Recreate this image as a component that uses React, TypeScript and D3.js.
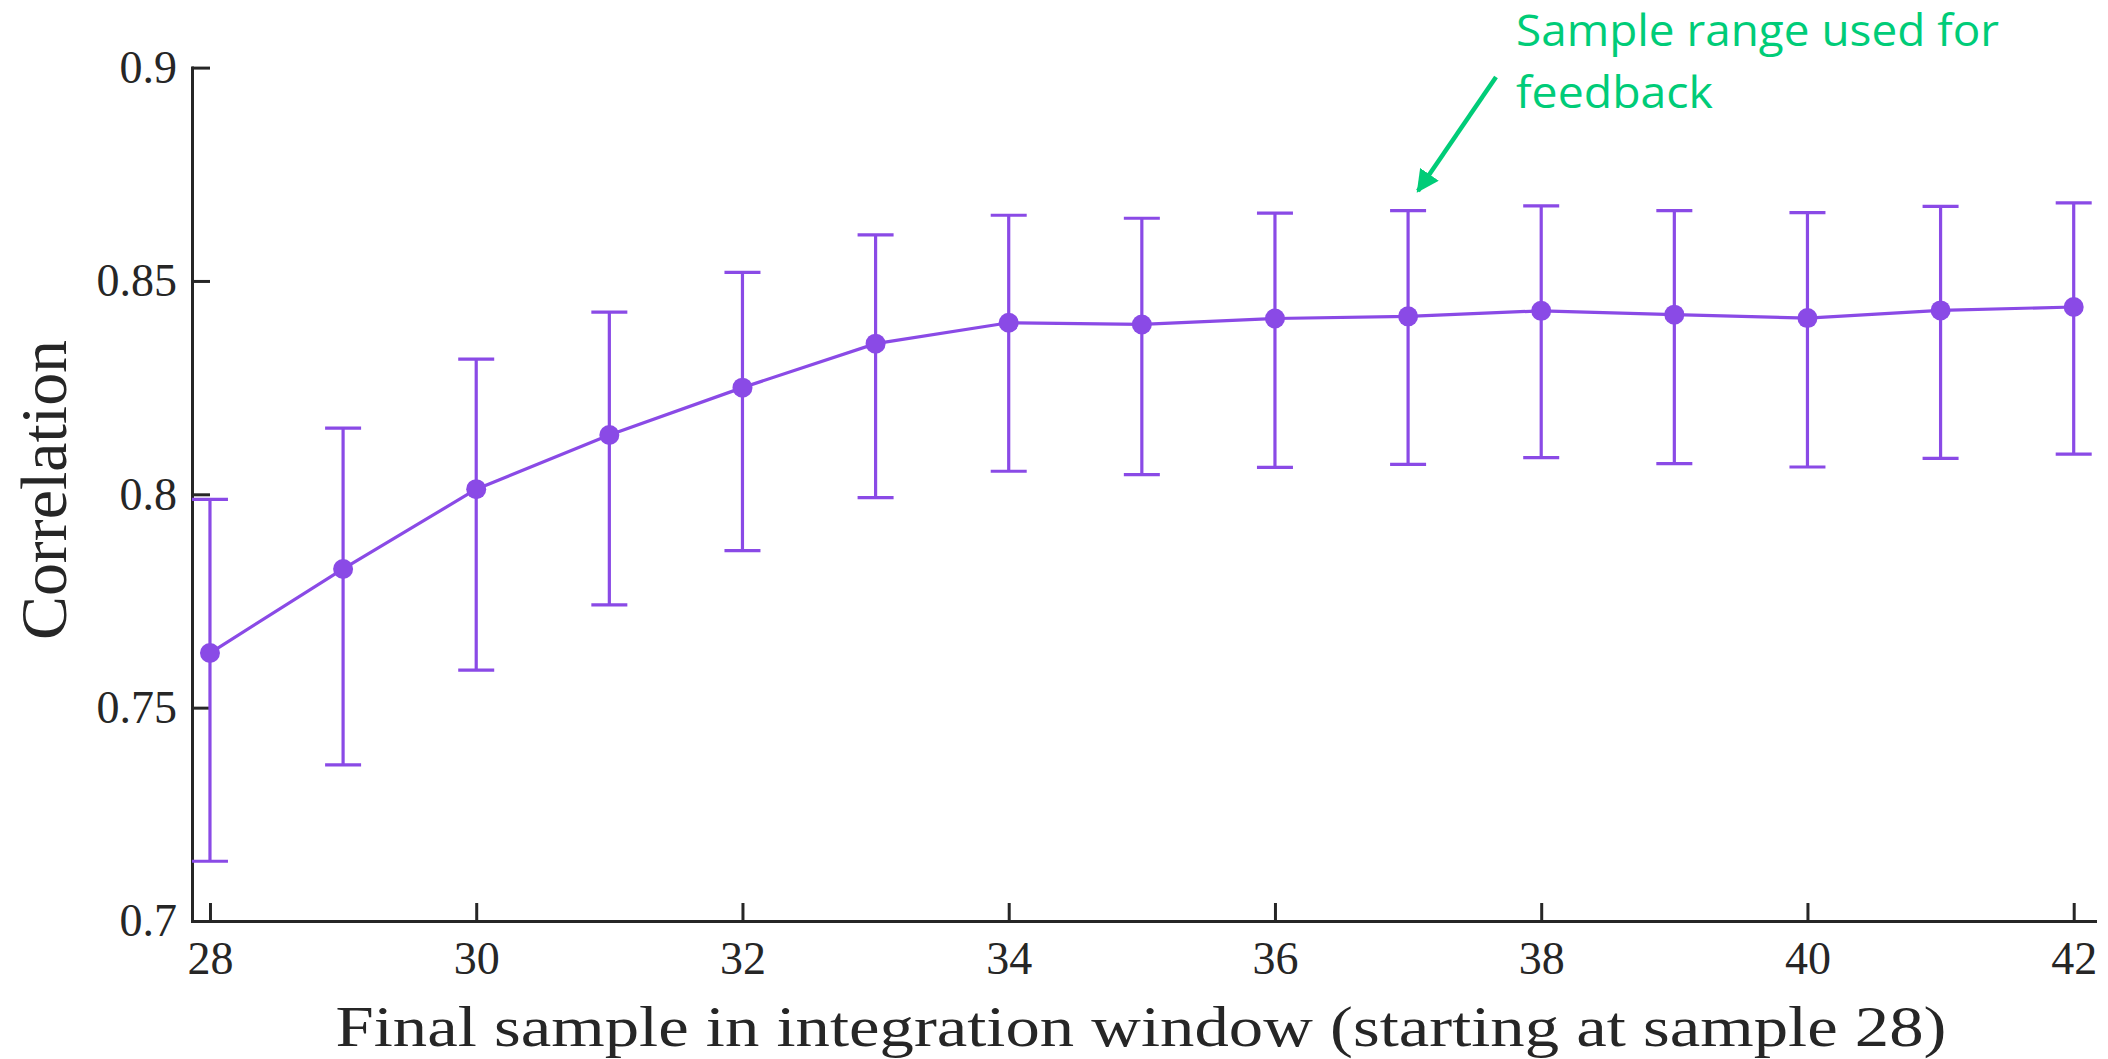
import React, { useEffect, useRef } from "react";
import * as d3 from "d3";

const sampleIndex = [28, 29, 30, 31, 32, 33, 34, 35, 36, 37, 38, 39, 40, 41, 42];
const meanValues = [0.7628, 0.7825, 0.8012, 0.8139, 0.825, 0.8353, 0.8402, 0.8398, 0.8412, 0.8417, 0.843, 0.8421, 0.8413, 0.8431, 0.8439];
const upperValues = [0.7988, 0.8155, 0.8317, 0.8427, 0.852, 0.8608, 0.8654, 0.8647, 0.8659, 0.8665, 0.8676, 0.8665, 0.866, 0.8675, 0.8683];
const lowerValues = [0.714, 0.7366, 0.7588, 0.7741, 0.7868, 0.7992, 0.8054, 0.8046, 0.8063, 0.807, 0.8086, 0.8072, 0.8064, 0.8084, 0.8094];
const xTickValues = [28, 30, 32, 34, 36, 38, 40, 42];
const yTickValues = [0.7, 0.75, 0.8, 0.85, 0.9];
const yTickLabels = ["0.7", "0.75", "0.8", "0.85", "0.9"];
const xTitle = "Final sample in integration window (starting at sample 28)";
const yTitle = "Correlation";
const noteLines = ["Sample range used for", "feedback"];

const W = 2108;
const H = 1059;
const PURPLE = "#8a4ae6";
const GREEN = "#00cc78";
const AXIS = "#262626";
const SERIF = "'Liberation Serif', 'DejaVu Serif', serif";
const SANS = "'Open Sans', 'Noto Sans', sans-serif";

export default function App() {
  const xAxisRef = useRef<SVGGElement>(null);
  const yAxisRef = useRef<SVGGElement>(null);

  const x = d3.scaleLinear().domain([27.865, 42.16]).range([192, 2095]);
  const y = d3.scaleLinear().domain([0.7, 0.9]).range([921, 67.6]);

  useEffect(() => {
    const xa = d3
      .axisBottom(x)
      .tickValues(xTickValues)
      .tickSizeInner(-18)
      .tickSizeOuter(0)
      .tickPadding(20)
      .tickFormat((d) => String(d));
    const ya = d3
      .axisLeft(y)
      .tickValues(yTickValues)
      .tickSizeInner(-18)
      .tickSizeOuter(0)
      .tickPadding(15)
      .tickFormat((d, i) => yTickLabels[i]);
    const gx = d3.select(xAxisRef.current!);
    gx.call(xa as any);
    const gy = d3.select(yAxisRef.current!);
    gy.call(ya as any);
    [gx, gy].forEach((g) => {
      g.attr("font-size", 46).attr("font-family", SERIF);
      g.select(".domain").attr("stroke", AXIS).attr("stroke-width", 3).attr("stroke-linecap", "square");
      g.selectAll(".tick line").attr("stroke", AXIS).attr("stroke-width", 3);
      g.selectAll(".tick text").attr("fill", AXIS);
    });
  }, []);

  const line = d3
    .line<number>()
    .x((_, i) => x(sampleIndex[i]))
    .y((d) => y(d));

  const capHalf = 18;

  return (
    <svg
      width={W}
      height={H}
      style={{ position: "absolute", left: 0, top: 0, display: "block", background: "#fff" }}
    >
      <defs>
        <marker
          id="arrowhead"
          viewBox="0 0 10 10"
          refX="9"
          refY="5"
          markerWidth="5"
          markerHeight="5"
          orient="auto"
          markerUnits="strokeWidth"
        >
          <path d="M0,0 L10,5 L0,10 z" fill={GREEN} />
        </marker>
      </defs>
      <rect x={0} y={0} width={W} height={H} fill="#fff" />

      <g transform="translate(0,921)" ref={xAxisRef} />
      <g transform="translate(192,0)" ref={yAxisRef} />

      {sampleIndex.map((s, i) => (
        <g key={s} stroke={PURPLE} strokeWidth={3.2}>
          <line x1={x(s)} x2={x(s)} y1={y(upperValues[i])} y2={y(lowerValues[i])} />
          <line x1={x(s) - capHalf} x2={x(s) + capHalf} y1={y(upperValues[i])} y2={y(upperValues[i])} />
          <line x1={x(s) - capHalf} x2={x(s) + capHalf} y1={y(lowerValues[i])} y2={y(lowerValues[i])} />
        </g>
      ))}
      <path d={line(meanValues) || ""} fill="none" stroke={PURPLE} strokeWidth={3.2} />
      {sampleIndex.map((s, i) => (
        <circle key={"c" + s} cx={x(s)} cy={y(meanValues[i])} r={10} fill={PURPLE} />
      ))}

      <text
        x={1141}
        y={1046}
        textAnchor="middle"
        fontFamily={SERIF}
        fontSize={58}
        fill={AXIS}
        textLength={1611}
        lengthAdjust="spacingAndGlyphs"
      >
        {xTitle}
      </text>
      <text
        transform="translate(66,490) rotate(-90)"
        textAnchor="middle"
        fontFamily={SERIF}
        fontSize={66}
        fill={AXIS}
        textLength={300}
        lengthAdjust="spacingAndGlyphs"
      >
        {yTitle}
      </text>

      <text x={1516} y={46} fontFamily={SANS} fontSize={44} fill={GREEN} textLength={483} lengthAdjust="spacingAndGlyphs">
        {noteLines[0]}
      </text>
      <text x={1516} y={108} fontFamily={SANS} fontSize={44} fill={GREEN} textLength={197} lengthAdjust="spacingAndGlyphs">
        {noteLines[1]}
      </text>
      <line x1={1496} y1={77} x2={1418} y2={191} stroke={GREEN} strokeWidth={4.5} markerEnd="url(#arrowhead)" />
    </svg>
  );
}
